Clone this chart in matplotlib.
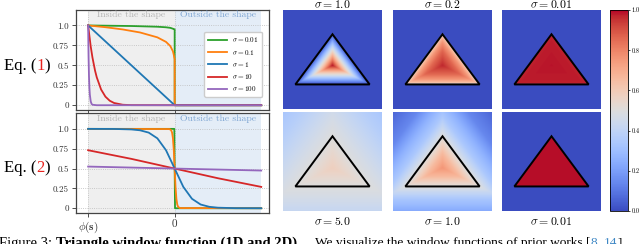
import numpy as np
import matplotlib
matplotlib.use("Agg")
import matplotlib.pyplot as plt
from matplotlib.colors import Normalize
import matplotlib.cm as cm

plt.rcParams['font.family'] = ['cmr10', 'DejaVu Serif']
plt.rcParams['mathtext.fontset'] = 'cm'
plt.rcParams['axes.formatter.use_mathtext'] = True

# ---------------- data ----------------
sigma_labels_1d = ["0.01", "0.1", "1", "10", "100"]
line_colors = ["#2ca02c", "#ff7f0e", "#1f77b4", "#d62728", "#9467bd"]

# Eq. (1) curves
eq1_x = [
    [-1, -0.5, -0.2, -0.1, -0.05, -0.01, 0, 0, 1],
    [-1, -0.8, -0.6, -0.4, -0.2, -0.1, -0.05, -0.02, -0.01, -0.005, 0, 0, 1],
    [-1, 0, 1],
    [-1, -0.97, -0.95, -0.92, -0.9, -0.85, -0.8, -0.75, -0.7, -0.6, -0.5, 0, 1],
    [-1, -0.995, -0.99, -0.985, -0.98, -0.97, -0.96, -0.95, -0.9, 0, 1],
]
eq1_y = [
    [1.0, 0.993, 0.984, 0.977, 0.97, 0.955, 0.95, 0, 0],
    [1.0, 0.978, 0.95, 0.912, 0.851, 0.794, 0.741, 0.676, 0.631, 0.6, 0.58, 0, 0],
    [1.0, 0, 0],
    [1.0, 0.737, 0.599, 0.434, 0.349, 0.197, 0.107, 0.056, 0.028, 0.006, 0.001, 0, 0],
    [1.0, 0.606, 0.366, 0.221, 0.133, 0.048, 0.017, 0.006, 0.0, 0, 0],
]

# Eq. (2) curves
eq2_x = [
    [-1, -0.004, 0, 0.004, 1],
    [-1, -0.06, -0.04, -0.03, -0.02, -0.01, 0, 0.01, 0.02, 0.03, 0.04, 0.06, 1],
    [-1, -0.7, -0.5, -0.4, -0.3, -0.2, -0.1, 0, 0.1, 0.2, 0.3, 0.4, 0.5, 0.7, 1],
    [-1, -0.5, 0, 0.5, 1],
    [-1, 0, 1],
]
eq2_y = [
    [1.0, 1.0, 0.5, 0.0, 0.0],
    [1.0, 0.998, 0.982, 0.953, 0.881, 0.731, 0.5, 0.269, 0.119, 0.047, 0.018, 0.002, 0.0],
    [1.0, 0.999, 0.993, 0.982, 0.953, 0.881, 0.731, 0.5, 0.269, 0.119, 0.047, 0.018, 0.007, 0.001, 0.0],
    [0.731, 0.622, 0.5, 0.378, 0.269],
    [0.525, 0.5, 0.475],
]

y_ticks = [0, 0.25, 0.5, 0.75, 1.0]
y_ticklabels = ["0", "0.25", "0.5", "0.75", "1.0"]
x_ticks = [-1, 0]
x_ticklabels = [r"$\phi(\mathbf{s})$", "0"]

# 2D panels: triangle and value-vs-signed-distance profiles
tri_x = [0.5, 0.125, 0.875]
tri_y = [0.755, 0.248, 0.248]
top_titles = [r"$\sigma = 1.0$", r"$\sigma = 0.2$", r"$\sigma = 0.01$"]
bottom_titles = [r"$\sigma = 5.0$", r"$\sigma = 1.0$", r"$\sigma = 0.01$"]
# signed distance (negative inside) -> value
top_prof_d = [
    [-0.19, 0.0, 0.0001, 1.0],
    [-0.19, -0.1, -0.05, -0.02, -0.005, 0.0, 0.0001, 1.0],
    [-0.19, -0.01, -0.003, 0.0, 0.0001, 1.0],
]
top_prof_v = [
    [1.0, 0.0, 0.0, 0.0],
    [0.97, 0.86, 0.76, 0.66, 0.56, 0.5, 0.0, 0.0],
    [0.985, 0.975, 0.96, 0.95, 0.0, 0.0],
]
bot_prof_d = [
    [-0.19, 0.0, 0.1, 0.22, 0.4, 0.6],
    [-0.19, -0.1, 0.0, 0.05, 0.12, 0.22, 0.35, 0.6],
    [-0.19, -0.001, 0.001, 0.6],
]
bot_prof_v = [
    [0.58, 0.5, 0.47, 0.43, 0.37, 0.32],
    [0.76, 0.66, 0.5, 0.43, 0.34, 0.26, 0.14, 0.04],
    [0.99, 0.99, 0.0, 0.0],
]

# ---------------- figure ----------------
W, H = 640, 244
fig = plt.figure(figsize=(W / 100, H / 100), dpi=100)


def px_axes(l, t, r, b):
    return fig.add_axes([l / W, 1 - b / H, (r - l) / W, (b - t) / H])


def draw_1d(ax, xs, ys, show_xlabels, legend):
    ax.axvspan(-1, 0, color="#efefef", zorder=0, lw=0)
    ax.axvspan(0, 1, color="#e4edf7", zorder=0, lw=0)
    for x, y, c, s in zip(xs, ys, line_colors, sigma_labels_1d):
        ax.plot(x, y, color=c, lw=1.3, label=r"$\sigma = %s$" % s, zorder=3)
    ax.set_xlim(-1.14, 1.09)
    ax.set_ylim(-0.06, 1.2)
    ax.set_yticks(y_ticks)
    ax.set_yticklabels(y_ticklabels, fontsize=6.5)
    ax.set_xticks(x_ticks)
    if show_xlabels:
        ax.set_xticklabels(x_ticklabels, fontsize=8)
    else:
        ax.set_xticklabels([])
    ax.tick_params(length=3, width=0.6, pad=2, colors="#333333")
    ax.grid(True, ls=":", lw=0.6, color="#bbbbbb", zorder=1)
    for sp in ax.spines.values():
        sp.set_color("#444444")
        sp.set_linewidth(0.9)
    ax.text(-0.5, 1.13, "Inside the shape", ha="center", va="center",
            fontsize=7, color="#b5b5b5")
    ax.text(0.5, 1.13, "Outside the shape", ha="center", va="center",
            fontsize=7, color="#7fa6d3")
    if legend:
        ax.legend(loc="upper right", bbox_to_anchor=(0.985, 0.815), fontsize=5.2,
                  handlelength=2.6, labelspacing=0.45, borderpad=0.5,
                  framealpha=1.0, edgecolor="#cccccc", fancybox=True)


ax1 = px_axes(76, 9.5, 269, 110)
draw_1d(ax1, eq1_x, eq1_y, False, True)
ax2 = px_axes(76, 113, 269, 213)
draw_1d(ax2, eq2_x, eq2_y, True, False)


def seq_text(x0, y0, parts, **kw):
    """Draw consecutive text pieces starting at pixel x0, y0 (from top)."""
    x = x0
    for s, extra in parts:
        t = fig.text(x / W, 1 - y0 / H, s, **kw, **extra)
        fig.canvas.draw()
        x = t.get_window_extent().x1
    return x


eq_font = ["Liberation Serif", "DejaVu Serif"]
for yc, num in [(66, "1"), (168, "2")]:
    seq_text(4, yc, [("Eq. (", {}), (num, {"color": "#e8231f"}), (")", {})],
             fontsize=12, family=eq_font, va="center", ha="left")

# 2D fields
n = 220
gx, gy = np.meshgrid((np.arange(n) + 0.5) / n, (np.arange(n) + 0.5) / n)
vx = np.array(tri_x)
vy = np.array(tri_y)
cx, cy = vx.mean(), vy.mean()
sdf = np.full(gx.shape, -np.inf)
for i in range(3):
    ax_, ay_ = vx[i], vy[i]
    bx_, by_ = vx[(i + 1) % 3], vy[(i + 1) % 3]
    dx, dy = bx_ - ax_, by_ - ay_
    L = np.hypot(dx, dy)
    nx, ny = dy / L, -dx / L
    if nx * (cx - ax_) + ny * (cy - ay_) > 0:
        nx, ny = -nx, -ny
    sdf = np.maximum(sdf, nx * (gx - ax_) + ny * (gy - ay_))

cmap = plt.get_cmap("coolwarm")
norm = Normalize(0, 1)
col_l = [283, 393, 502]
rows = [(10, 109), (112, 211)]
for r, (profs_d, profs_v) in enumerate([(top_prof_d, top_prof_v), (bot_prof_d, bot_prof_v)]):
    for c in range(3):
        ax = px_axes(col_l[c], rows[r][0], col_l[c] + 99, rows[r][1])
        img = np.interp(sdf, profs_d[c], profs_v[c])
        ax.imshow(img, cmap=cmap, norm=norm, origin="lower", extent=[0, 1, 0, 1],
                  interpolation="bilinear", aspect="auto")
        ax.fill(tri_x, tri_y, fill=False, edgecolor="black", lw=1.4, joinstyle="miter")
        ax.set_xlim(0, 1)
        ax.set_ylim(0, 1)
        ax.set_xticks([])
        ax.set_yticks([])
        for sp in ax.spines.values():
            sp.set_visible(False)
        if r == 0:
            ax.set_title(top_titles[c], fontsize=8.5, pad=1.5)
        else:
            ax.text(0.5, -0.04, bottom_titles[c], transform=ax.transAxes,
                    ha="center", va="top", fontsize=8.5)

cax = px_axes(610, 10, 628, 211)
cb = fig.colorbar(cm.ScalarMappable(norm=norm, cmap=cmap), cax=cax,
                  ticks=[0, 0.2, 0.4, 0.6, 0.8, 1.0])
cb.ax.set_yticklabels(["0.0", "0.2", "0.4", "0.6", "0.8", "1.0"], fontsize=4.5)
cb.ax.tick_params(length=1.5, width=0.5, pad=1)
cb.outline.set_linewidth(0.6)

# caption (cut off at the bottom of the image)
cap_font = ["Liberation Serif", "DejaVu Serif"]
cap_y = 237
seq_text(-1, cap_y, [("Figure 3: ", {}),
                     ("Triangle window function (1D and 2D).", {"fontweight": "bold"})],
         fontsize=10.5, family=cap_font, va="top", ha="left")
seq_text(315, cap_y, [("We visualize the window functions of prior works [", {}),
                      ("8", {"color": "#3f88c5"}), (", ", {}),
                      ("14", {"color": "#3f88c5"}), ("]", {})],
         fontsize=9.6, family=cap_font, va="top", ha="left")

fig.savefig("out.png", dpi=100)
